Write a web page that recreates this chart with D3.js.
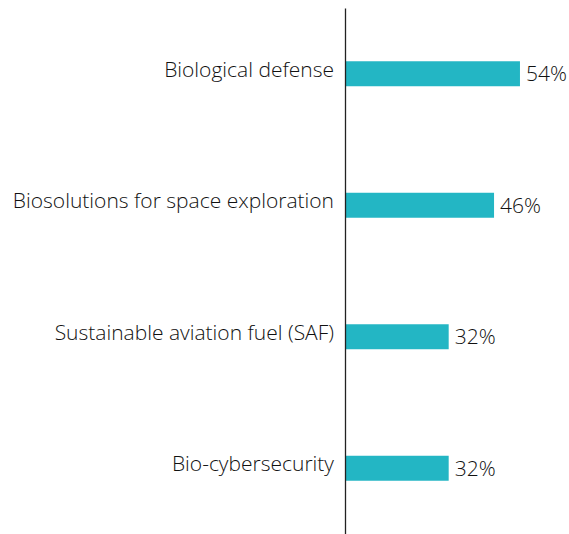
<!DOCTYPE html>
<html><head><meta charset="utf-8">
<script src="https://cdn.jsdelivr.net/npm/d3@7"></script>
<style>html,body{margin:0;padding:0;background:#fff;}svg{display:block;}</style>
</head><body>
<svg id="chart" width="569" height="534"></svg>
<script>
const categories = ["Biological defense","Biosolutions for space exploration","Sustainable aviation fuel (SAF)","Bio-cybersecurity"];
const values = [54, 46, 32, 32];
const valueLabels = ["54%","46%","32%","32%"];

const W = 569, H = 534;
const axisX = 345;
const svg = d3.select("#chart");
const font = "'Open Sans', 'Noto Sans', sans-serif";

const y = d3.scaleBand().domain(categories).range([8, 534]).paddingInner(0.81).paddingOuter(0.405);
const x = d3.scaleLinear().domain([0, 100]).range([axisX, axisX + 324]);

svg.selectAll("rect.bar").data(categories).join("rect")
  .attr("class","bar")
  .attr("x", x(0))
  .attr("y", d => y(d))
  .attr("width", (d,i) => x(values[i]) - x(0))
  .attr("height", y.bandwidth())
  .attr("fill", "#23b6c4");

const ax = svg.append("g").attr("transform", `translate(${axisX},0)`)
  .call(d3.axisLeft(y).tickSize(0).tickPadding(11));
ax.select(".domain").attr("stroke","#222").attr("stroke-width",1.3);
ax.selectAll("text").attr("font-family", font).attr("font-size", 21).attr("font-weight", 360).attr("fill","#111").attr("dy","0.15em");

svg.selectAll("text.val").data(categories).join("text")
  .attr("class","val")
  .attr("x", (d,i) => x(values[i]) + 6)
  .attr("y", d => y(d) + y.bandwidth()/2)
  .attr("dy","0.36em")
  .attr("font-family", font).attr("font-size", 21).attr("font-weight", 360).attr("fill","#111")
  .text((d,i) => valueLabels[i]);
</script>
</body></html>
